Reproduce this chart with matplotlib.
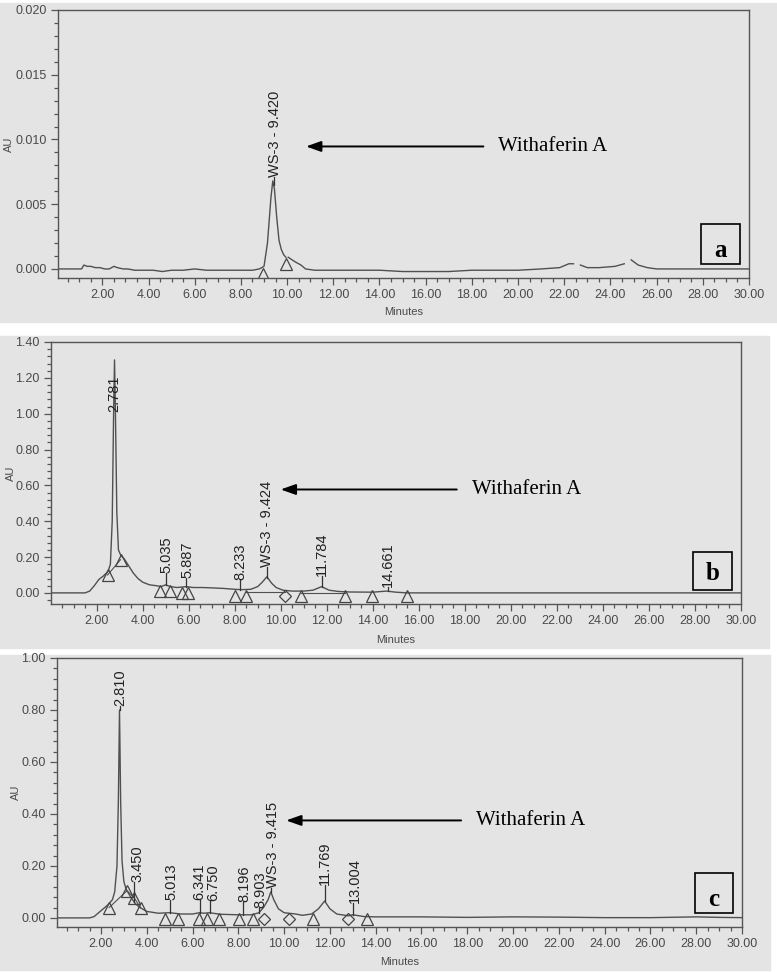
import matplotlib
matplotlib.use('Agg')
import matplotlib.pyplot as plt
import numpy as np
from matplotlib.patches import Rectangle
from matplotlib.ticker import MultipleLocator, FormatStrFormatter

# ---- data (minutes, AU) ----
# panel a: standard
t_a = [0.1, 0.5, 0.9, 1.1, 1.2, 1.35, 1.5, 1.7, 1.9, 2.1, 2.3, 2.5, 2.65, 2.9, 3.1, 3.4,
       3.8, 4.2, 4.6, 5.0, 5.5, 6.0, 6.5, 7.0, 7.5, 8.0, 8.5, 8.8, 9.0, 9.15, 9.3, 9.38,
       9.45, 9.55, 9.65, 9.75, 9.85, 9.95, np.nan, 10.05, 10.3, 10.6, 10.8, 11.2, 12.0,
       13.0, 14.0, 15.0, 16.0, 17.0, 18.0, 19.0, 20.0, 21.0, 21.8, 22.2, 22.4, np.nan,
       22.7, 23.0, 23.5, 24.2, 24.6, np.nan, 24.9, 25.2, 25.6, 26.0, 27.0, 28.0, 29.0, 30.0]
au_a = [0.0, 0.0, 0.0, 0.0, 0.0003, 0.0002, 0.0002, 0.0001, 0.0001, 0.0, 0.0, 0.0002,
        0.0001, 0.0, 0.0, -0.0001, -0.0001, -0.0001, -0.0002, -0.0001, -0.0001, 0.0,
        -0.0001, -0.0001, -0.0001, -0.0001, -0.0001, 0.0, 0.0002, 0.0020, 0.0055, 0.0068,
        0.0062, 0.0040, 0.0022, 0.0015, 0.0011, 0.0009, np.nan, 0.0009, 0.0006, 0.0003,
        0.0, -0.0001, -0.0001, -0.0001, -0.0001, -0.0002, -0.0002, -0.0002, -0.0001,
        -0.0001, -0.0001, 0.0, 0.0001, 0.0004, 0.0004, np.nan, 0.0003, 0.0001, 0.0001,
        0.0002, 0.0004, np.nan, 0.0007, 0.0003, 0.0001, 0.0, 0.0, 0.0, 0.0, 0.0]

# panel b: extract
t_b = [0.0, 1.5, 1.7, 1.9, 2.1, 2.3, 2.5, 2.6, 2.68, 2.74, 2.78, 2.82, 2.88, 2.95, 3.05,
       3.2, 3.4, 3.6, 3.8, 4.0, 4.3, 4.6, 4.8, 5.0, 5.2, 5.5, 5.9, 6.2, 6.6, 7.0, 7.5,
       8.0, 8.3, 8.7, 9.0, 9.2, 9.4, 9.6, 9.8, 10.1, 10.5, 11.0, 11.4, 11.78, 12.1,
       12.5, 13.0, 14.0, 14.6, 15.0, 15.5, 16.0, 30.0]
au_b = [0.0, 0.0, 0.01, 0.04, 0.075, 0.095, 0.12, 0.16, 0.40, 1.00, 1.30, 1.00, 0.45,
        0.24, 0.21, 0.19, 0.15, 0.11, 0.08, 0.06, 0.045, 0.04, 0.035, 0.045, 0.035, 0.03,
        0.035, 0.03, 0.03, 0.028, 0.025, 0.02, 0.018, 0.02, 0.035, 0.06, 0.09, 0.055,
        0.03, 0.015, 0.01, 0.01, 0.015, 0.035, 0.015, 0.008, 0.005, 0.004, 0.01, 0.004,
        0.0, 0.0, 0.0]

# panel c: fraction
t_c = [0.0, 1.5, 1.7, 1.9, 2.1, 2.3, 2.5, 2.6, 2.7, 2.76, 2.81, 2.86, 2.92, 3.0, 3.1,
       3.3, 3.5, 3.7, 4.0, 4.5, 5.0, 5.5, 6.0, 6.3, 6.5, 6.75, 7.2, 8.0, 8.6, 8.9, 9.1,
       9.3, 9.42, 9.55, 9.75, 10.0, 10.5, 10.8, 11.2, 11.5, 11.77, 12.0, 12.3, 12.8,
       13.0, 13.5, 14.0, 16.0, 18.0, 20.0, 22.0, 24.0, 26.0, 28.0, 29.0, 30.0]
au_c = [0.0, 0.0, 0.005, 0.02, 0.035, 0.05, 0.07, 0.10, 0.20, 0.45, 0.80, 0.45, 0.22,
        0.14, 0.11, 0.08, 0.055, 0.04, 0.025, 0.018, 0.02, 0.015, 0.015, 0.02, 0.018,
        0.02, 0.014, 0.012, 0.012, 0.02, 0.04, 0.07, 0.10, 0.07, 0.035, 0.02, 0.015,
        0.01, 0.015, 0.035, 0.065, 0.035, 0.015, 0.008, 0.012, 0.005, 0.004, 0.004,
        0.002, 0.004, 0.003, 0.001, 0.001, 0.004, 0.002, 0.001]

# peak labels (text, retention time)
peaks_a = ['WS-3 - 9.420']
rt_a = [9.42]
peaks_b = ['2.781', '5.035', '5.887', '8.233', 'WS-3 - 9.424', '11.784', '14.661']
rt_b = [2.781, 5.035, 5.887, 8.233, 9.424, 11.784, 14.661]
peaks_c = ['2.810', '3.450', '5.013', '6.341', '6.750', '8.196', '8.903',
           'WS-3 - 9.415', '11.769', '13.004']
rt_c = [2.81, 3.45, 5.013, 6.341, 6.75, 8.196, 8.903, 9.415, 11.769, 13.004]

# integration markers (time, AU)
tri_a = [(8.95, -0.0004), (9.95, 0.0004)]
dia_a = []
tri_b = [(2.48, 0.10), (3.04, 0.185), (4.74, 0.01), (5.17, 0.008), (5.7, 0.0), (5.96, 0.0),
         (8.0, -0.02), (8.5, -0.02), (10.87, -0.02), (12.78, -0.02), (13.95, -0.02),
         (15.5, -0.02)]
dia_b = [(10.2, -0.02)]
tri_c = [(2.36, 0.04), (3.14, 0.105), (3.45, 0.077), (3.73, 0.04), (4.8, -0.005),
         (5.37, -0.005), (6.28, -0.005), (6.64, -0.005), (7.17, -0.005), (8.03, -0.005),
         (8.65, -0.005), (11.27, -0.005), (13.62, -0.005)]
dia_c = [(9.13, -0.005), (10.2, -0.005), (12.8, -0.005)]

# ---- layout / style ----
W, H = 777, 972
gray = '#e4e4e4'
ink = '#4a4a4a'
sans = 'Liberation Sans'
serif = 'Liberation Serif'

fig = plt.figure(figsize=(W / 100, H / 100), dpi=100, facecolor='white')

# panel backgrounds (px: x0, y_top, x1, y_bottom)
for x0, y0, x1, y1 in [(0, 3, 777, 322), (0, 336, 769, 648), (0, 655, 770, 970)]:
    fig.add_artist(Rectangle((x0 / W, 1 - y1 / H), (x1 - x0) / W, (y1 - y0) / H,
                             transform=fig.transFigure, color=gray, zorder=0))

panels = [
    dict(t=t_a, au=au_a, names=peaks_a, rt=rt_a, tri=tri_a, dia=dia_a,
         box=(58, 10, 749, 278), xlim=(0.08, 30), ylim=(-0.0007, 0.020),
         major=0.005, minor=0.001, fmt='%.3f',
         lab_y=[0.0071], lab_dx=[0.05], base=[],
         arrow=((10.82, 18.5), 0.00946), letter='a', ylab_x=-0.064, letter_y=0.078,
         xlab_y=-0.108),
    dict(t=t_b, au=au_b, names=peaks_b, rt=rt_b, tri=tri_b, dia=dia_b,
         box=(51, 342, 741, 604), xlim=(0.02, 30), ylim=(-0.062, 1.40),
         major=0.2, minor=0.04, fmt='%.2f',
         lab_y=[1.01, 0.11, 0.085, 0.07, 0.145, 0.095, 0.035],
         lab_dx=[0, 0, 0.05, 0.03, -0.03, 0, 0],
         base=[((2.48, 3.04), (0.10, 0.185)), ((8.5, 10.2), (0.005, 0.005)),
               ((10.87, 12.78), (0.002, 0.002))],
         arrow=((10.0, 17.65), 0.577), letter='b', ylab_x=-0.051, letter_y=0.092,
         xlab_y=-0.118),
    dict(t=t_c, au=au_c, names=peaks_c, rt=rt_c, tri=tri_c, dia=dia_c,
         box=(57, 658, 742, 927), xlim=(0.08, 30), ylim=(-0.035, 1.0),
         major=0.2, minor=0.04, fmt='%.2f',
         lab_y=[0.815, 0.14, 0.07, 0.07, 0.065, 0.06, 0.04, 0.115, 0.128, 0.058],
         lab_dx=[0.03, 0.13, 0.06, -0.06, 0.17, 0.06, 0.05, 0.1, 0.03, 0.08],
         base=[((2.36, 3.14, 3.45, 3.73), (0.04, 0.105, 0.077, 0.04))],
         arrow=((10.09, 17.73), 0.375), letter='c', ylab_x=-0.053, letter_y=0.078,
         xlab_y=-0.11),
]

line_col = '#505050'

for p in panels:
    l, tp, r, b = p['box']
    ax = fig.add_axes([l / W, 1 - b / H, (r - l) / W, (b - tp) / H])
    ax.set_facecolor(gray)
    ax.set_xlim(*p['xlim'])
    ax.set_ylim(*p['ylim'])

    ax.plot(p['t'], p['au'], color=line_col, lw=1.0)
    for xs, ys in p['base']:
        ax.plot(xs, ys, color=line_col, lw=0.8)

    if p['tri']:
        tx, ty = zip(*p['tri'])
        ax.plot(tx, ty, ls='none', marker='^', ms=9, mfc='none', mec='#444', mew=0.9)
    if p['dia']:
        dx, dy = zip(*p['dia'])
        ax.plot(dx, dy, ls='none', marker='D', ms=6, mfc='none', mec='#444', mew=0.9)

    # peak labels with drop lines
    t_ok = np.array(p['t'], dtype=float)
    a_ok = np.array(p['au'], dtype=float)
    m = ~np.isnan(t_ok)
    for name, rt, ly, ddx in zip(p['names'], p['rt'], p['lab_y'], p['lab_dx']):
        yv = np.interp(rt, t_ok[m], a_ok[m])
        ax.plot([rt, rt], [min(yv, ly), ly], color='#333', lw=0.9)
        ax.text(rt + ddx, ly, name, rotation=90, ha='center', va='bottom',
                fontsize=10.5, family=sans, color='#222')

    # arrow and compound name
    (xh, xt), ya = p['arrow']
    ax.annotate('', xy=(xh, ya), xytext=(xt, ya),
                arrowprops=dict(arrowstyle='-|>,head_length=0.9,head_width=0.32',
                                lw=1.4, color='black', shrinkA=0, shrinkB=0))
    ax.text(xt + 0.65, ya, 'Withaferin A', ha='left', va='center',
            fontsize=15, family=serif, color='black')

    # panel letter in a box
    ax.add_patch(Rectangle((0.931, 0.053), 0.056, 0.147, transform=ax.transAxes,
                           fill=False, ec='black', lw=1.2, zorder=5))
    ax.text(0.959, p['letter_y'], p['letter'], transform=ax.transAxes,
            ha='center', va='baseline', fontsize=18, fontweight='bold',
            family=serif, color='black', zorder=6)

    # axes styling
    ax.xaxis.set_major_locator(MultipleLocator(2))
    ax.xaxis.set_minor_locator(MultipleLocator(0.5))
    ax.xaxis.set_major_formatter(FormatStrFormatter('%.2f'))
    ax.yaxis.set_major_locator(MultipleLocator(p['major']))
    ax.yaxis.set_minor_locator(MultipleLocator(p['minor']))
    ax.yaxis.set_major_formatter(FormatStrFormatter(p['fmt']))
    ax.tick_params(which='both', direction='out', color='#555', width=0.9)
    ax.tick_params(which='major', length=5, labelsize=9, labelcolor=ink, pad=3)
    ax.tick_params(which='minor', length=3)
    for lab in ax.get_xticklabels() + ax.get_yticklabels():
        lab.set_family(sans)
    for s in ax.spines.values():
        s.set_color('#555')
        s.set_linewidth(1.0)

    ax.set_ylabel('AU', fontsize=8, family=sans, color=ink)
    ax.yaxis.set_label_coords(p['ylab_x'], 0.5)
    ax.set_xlabel('Minutes', fontsize=8, family=sans, color=ink)
    ax.xaxis.set_label_coords(0.5, p['xlab_y'])

fig.savefig('out.png', dpi=100, facecolor='white')
